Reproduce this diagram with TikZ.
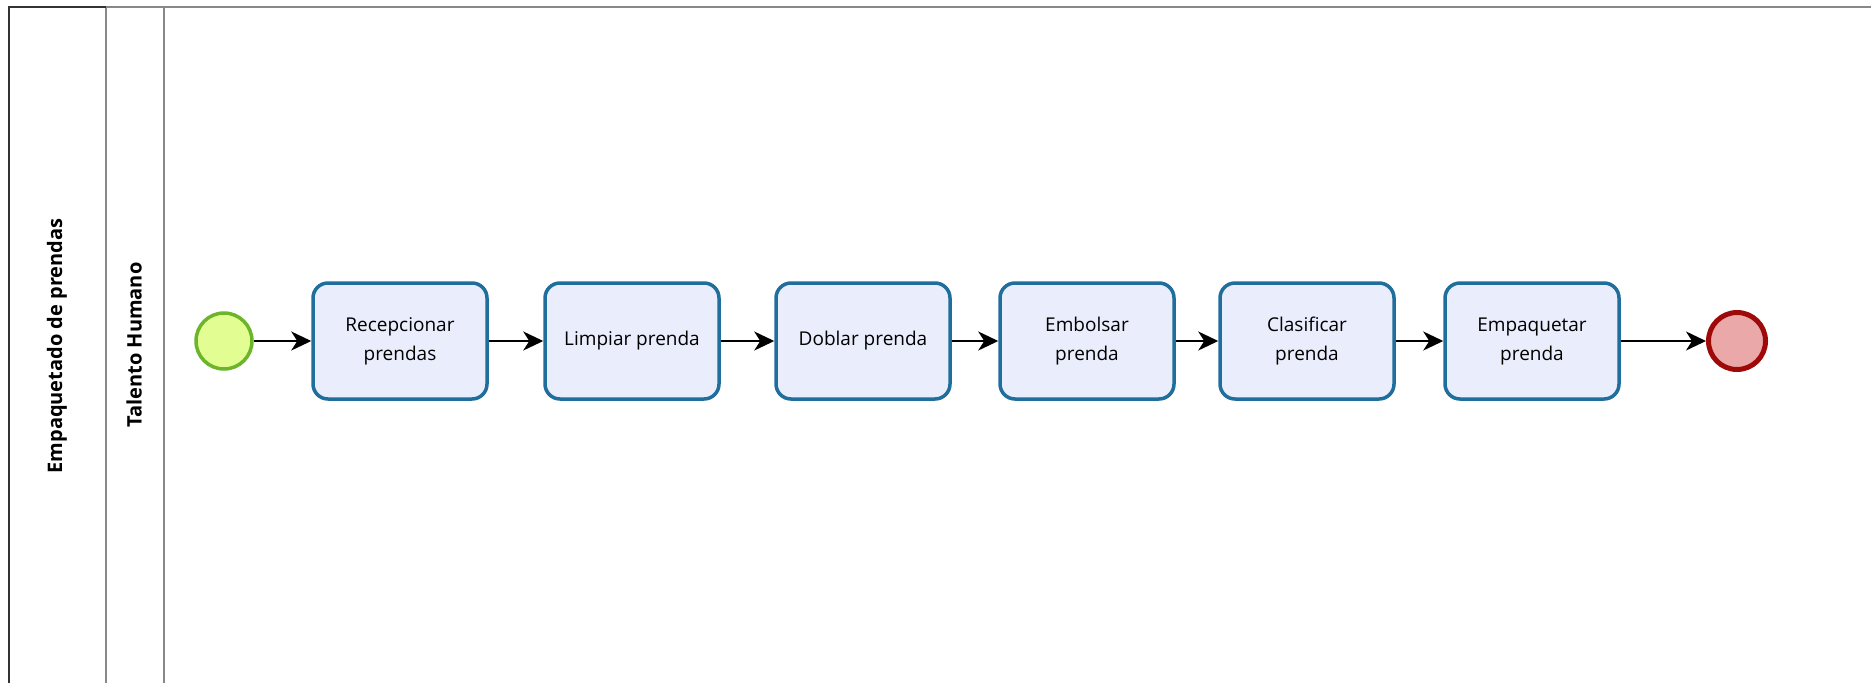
\documentclass[tikz,border=0pt]{standalone}
\usepackage{fontspec}
\setmainfont{Open Sans}
\usetikzlibrary{arrows.meta}

\definecolor{taskline}{HTML}{1F6E9C}
\definecolor{taskfill}{HTML}{EAEDFC}
\definecolor{startline}{HTML}{6CB52A}
\definecolor{startfill}{HTML}{E2FE93}
\definecolor{endline}{HTML}{9E0A0A}
\definecolor{endfill}{HTML}{EBA8A8}
\definecolor{poolline}{HTML}{888888}

\tikzset{
  task/.style={draw=taskline,fill=taskfill,line width=3.5pt,rounded corners=15pt,
    minimum width=174pt,minimum height=116pt,align=center,font=\fontsize{19}{29}\selectfont},
  startev/.style={circle,draw=startline,fill=startfill,line width=3.5pt,minimum size=56pt},
  endev/.style={circle,draw=endline,fill=endfill,line width=5pt,minimum size=57pt},
  flow/.style={line width=2pt,-{Stealth[length=20pt,width=19pt,inset=6pt]}},
  lanetext/.style={rotate=90,font=\bfseries\fontsize{20}{24}\selectfont}
}

\begin{document}
\begin{tikzpicture}[x=1pt,y=-1pt]
\useasboundingbox (0,0) rectangle (1871,683);

% pool and lane borders
\draw [poolline,line width=2pt] (106, 7) -- (1871, 7);
\draw [poolline,line width=2pt] (106, 7) -- (106, 683);
\draw [poolline,line width=2pt] (164, 7) -- (164, 683);
\draw [black!80,line width=2pt] (9, 683) -- (9, 7) -- (106, 7);

\node[lanetext] (pool) at (57, 346) {Empaquetado de prendas};
\node[lanetext] (lane) at (134, 345) {Talento Humano};

% events and tasks
\node[startev] (start) at (224, 341) {};
\node[task] (t1) at (400, 341) {Recepcionar\\prendas};
\node[task] (t2) at (632, 341) {Limpiar prenda};
\node[task] (t3) at (863, 341) {Doblar prenda};
\node[task] (t4) at (1087, 341) {Embolsar\\prenda};
\node[task] (t5) at (1307, 341) {Clasificar\\prenda};
\node[task] (t6) at (1532, 341) {Empaquetar\\prenda};
\node[endev] (end) at (1737, 341) {};

\draw [flow] (start) -- (t1);
\draw [flow] (t1) -- (t2);
\draw [flow] (t2) -- (t3);
\draw [flow] (t3) -- (t4);
\draw [flow] (t4) -- (t5);
\draw [flow] (t5) -- (t6);
\draw [flow] (t6) -- (end);

\end{tikzpicture}
\end{document}
